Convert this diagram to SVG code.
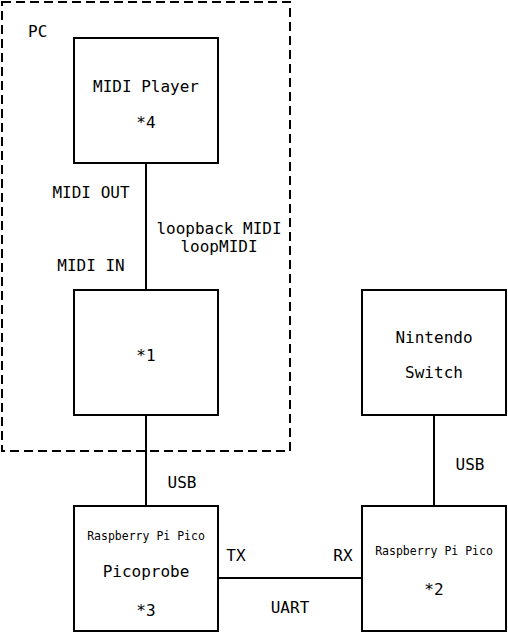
<svg xmlns="http://www.w3.org/2000/svg" width="508" height="634" viewBox="0 0 508 634">
<style>
.box{fill:#fff;stroke:#000;stroke-width:2}
.ln{stroke:#000;stroke-width:2;fill:none}
text{font-family:"DejaVu Sans Mono","Liberation Mono",monospace;font-size:16px;fill:#000;text-anchor:middle}
.s{font-size:11.5px}
.l{text-anchor:start}
</style>
<rect width="508" height="634" fill="#fff"/>
<g id="pc">
<rect x="2" y="2" width="288" height="449" fill="none" stroke="#000" stroke-width="2" stroke-dasharray="9,5"/>
<text x="28" y="37" class="l">PC</text>
</g>
<g id="connectors">
<line class="ln" x1="146" y1="163" x2="146" y2="290"/>
<line class="ln" x1="146" y1="415" x2="146" y2="506"/>
<line class="ln" x1="434" y1="415" x2="434" y2="506"/>
<line class="ln" x1="218" y1="578" x2="362" y2="578"/>
<text x="91" y="198">MIDI OUT</text>
<text x="91" y="271">MIDI IN</text>
<text x="219" y="234">loopback MIDI</text>
<text x="219" y="252">loopMIDI</text>
<text x="182" y="488">USB</text>
<text x="470" y="470">USB</text>
<text x="236" y="561">TX</text>
<text x="343" y="561">RX</text>
<text x="290" y="613">UART</text>
</g>
<g id="midiplayer">
<rect class="box" x="74" y="38" width="144" height="125"/>
<text x="146" y="92">MIDI Player</text>
<text x="146" y="128">*4</text>
</g>
<g id="node1">
<rect class="box" x="74" y="290" width="144" height="125"/>
<text x="146" y="361">*1</text>
</g>
<g id="switch">
<rect class="box" x="362" y="290" width="144" height="125"/>
<text x="434" y="343">Nintendo</text>
<text x="434" y="378">Switch</text>
</g>
<g id="picoprobe">
<rect class="box" x="74" y="506" width="144" height="125"/>
<text x="146" y="540" class="s">Raspberry Pi Pico</text>
<text x="146" y="577">Picoprobe</text>
<text x="146" y="616">*3</text>
</g>
<g id="pico2">
<rect class="box" x="362" y="506" width="144" height="125"/>
<text x="434" y="555" class="s">Raspberry Pi Pico</text>
<text x="434" y="595">*2</text>
</g>
</svg>
